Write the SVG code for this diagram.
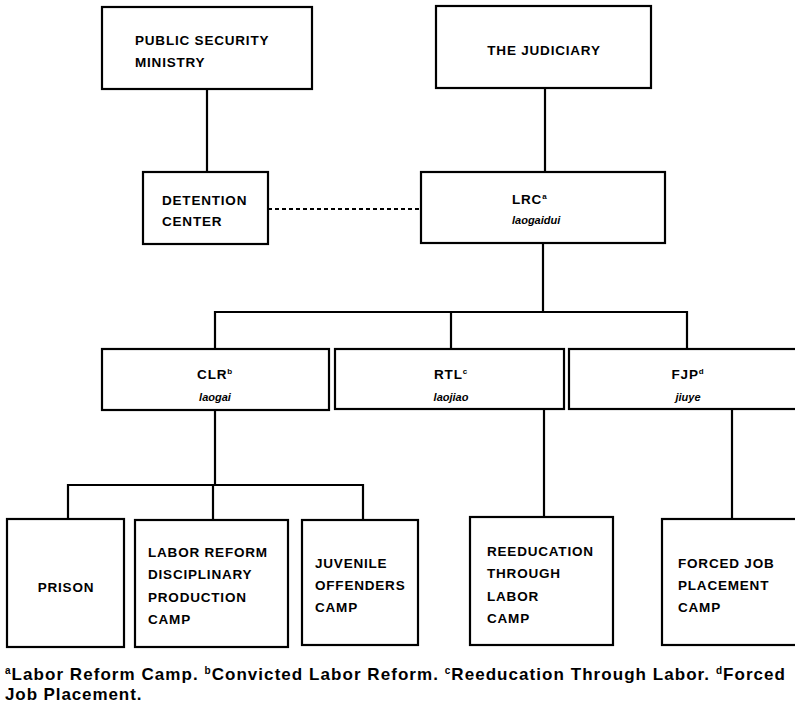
<svg xmlns="http://www.w3.org/2000/svg" width="795" height="704" viewBox="0 0 795 704">
<style>
.box{fill:#fff;stroke:#000;stroke-width:2.2}
.ln{fill:none;stroke:#000;stroke-width:2.2}
.dot{fill:none;stroke:#000;stroke-width:2;stroke-dasharray:4 3}
.t{font-family:"Liberation Sans",Arial,sans-serif;font-weight:bold;font-size:13.5px;letter-spacing:0.8px;fill:#000}
.i{font-family:"Liberation Sans",Arial,sans-serif;font-weight:bold;font-style:italic;font-size:11px;fill:#000}
.c{text-anchor:middle}
.sup{font-size:8px}
.f{font-family:"Liberation Sans",Arial,sans-serif;font-size:17px;fill:#000;font-weight:bold}
.fs{font-size:10px}
</style>
<rect width="795" height="704" fill="#fff"/>
<g id="connectors">
<line class="ln" x1="207" y1="89" x2="207" y2="172"/>
<line class="ln" x1="545" y1="88" x2="545" y2="172"/>
<line class="dot" x1="268" y1="209" x2="421" y2="209"/>
<line class="ln" x1="543" y1="243" x2="543" y2="312"/>
<polyline class="ln" points="215,349 215,312 687,312 687,349"/>
<line class="ln" x1="451" y1="312" x2="451" y2="349"/>
<line class="ln" x1="215" y1="410" x2="215" y2="485"/>
<polyline class="ln" points="68,519 68,485 363,485 363,520"/>
<line class="ln" x1="213" y1="485" x2="213" y2="520"/>
<line class="ln" x1="544" y1="409" x2="544" y2="517"/>
<line class="ln" x1="732" y1="409" x2="732" y2="519"/>
</g>
<g id="psm">
<rect class="box" x="102" y="7" width="210" height="82"/>
<text class="t" x="135" y="45">PUBLIC SECURITY</text>
<text class="t" x="135" y="67">MINISTRY</text>
</g>
<g id="judiciary">
<rect class="box" x="436" y="6" width="215" height="82"/>
<text class="t c" x="544" y="55">THE JUDICIARY</text>
</g>
<g id="detention">
<rect class="box" x="143" y="172" width="125" height="72"/>
<text class="t" x="162" y="205">DETENTION</text>
<text class="t" x="162" y="226">CENTER</text>
</g>
<g id="lrc">
<rect class="box" x="421" y="172" width="244" height="71"/>
<text class="t" x="512" y="204">LRC<tspan class="sup" dy="-5">a</tspan></text>
<text class="i" x="512" y="224">laogaidui</text>
</g>
<g id="clr">
<rect class="box" x="102" y="349" width="227" height="61"/>
<text class="t c" x="215" y="379">CLR<tspan class="sup" dy="-5">b</tspan></text>
<text class="i c" x="215" y="401">laogai</text>
</g>
<g id="rtl">
<rect class="box" x="335" y="349" width="229" height="60"/>
<text class="t c" x="451" y="379">RTL<tspan class="sup" dy="-5">c</tspan></text>
<text class="i c" x="451" y="401">laojiao</text>
</g>
<g id="fjp">
<rect class="box" x="569" y="349" width="240" height="60"/>
<text class="t c" x="688" y="379">FJP<tspan class="sup" dy="-5">d</tspan></text>
<text class="i c" x="688" y="401">jiuye</text>
</g>
<g id="prison">
<rect class="box" x="7" y="519" width="117" height="128"/>
<text class="t c" x="66" y="592">PRISON</text>
</g>
<g id="lrdpc">
<rect class="box" x="135" y="520" width="153" height="127"/>
<text class="t" x="148" y="557">LABOR REFORM</text>
<text class="t" x="148" y="579">DISCIPLINARY</text>
<text class="t" x="148" y="602">PRODUCTION</text>
<text class="t" x="148" y="624">CAMP</text>
</g>
<g id="juvenile">
<rect class="box" x="302" y="520" width="116" height="125"/>
<text class="t" x="315" y="568">JUVENILE</text>
<text class="t" x="315" y="590">OFFENDERS</text>
<text class="t" x="315" y="612">CAMP</text>
</g>
<g id="reeducation">
<rect class="box" x="470" y="517" width="143" height="128"/>
<text class="t" x="487" y="556">REEDUCATION</text>
<text class="t" x="487" y="578">THROUGH</text>
<text class="t" x="487" y="601">LABOR</text>
<text class="t" x="487" y="623">CAMP</text>
</g>
<g id="forced">
<rect class="box" x="662" y="519" width="145" height="126"/>
<text class="t" x="678" y="568">FORCED JOB</text>
<text class="t" x="678" y="590">PLACEMENT</text>
<text class="t" x="678" y="612">CAMP</text>
</g>
<g id="footnote">
<text class="f" x="5" y="680" textLength="780" lengthAdjust="spacing"><tspan class="fs" dy="-6">a</tspan><tspan dy="6">Labor Reform Camp. </tspan><tspan class="fs" dy="-6">b</tspan><tspan dy="6">Convicted Labor Reform. </tspan><tspan class="fs" dy="-6">c</tspan><tspan dy="6">Reeducation Through Labor. </tspan><tspan class="fs" dy="-6">d</tspan><tspan dy="6">Forced</tspan></text>
<text class="f" x="5" y="700" letter-spacing="0.9">Job Placement.</text>
</g>
</svg>
